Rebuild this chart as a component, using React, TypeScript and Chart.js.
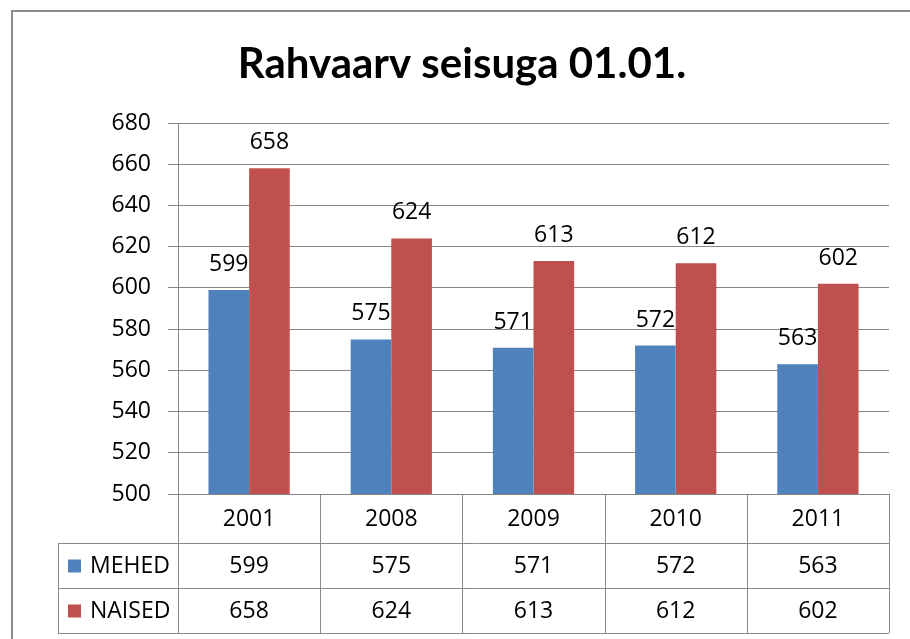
import React, { useEffect, useRef } from "react";
import { Chart, registerables } from "chart.js";

Chart.register(...registerables);

const title = "Rahvaarv seisuga 01.01.";
const categories = ["2001", "2008", "2009", "2010", "2011"];
const seriesNames = ["MEHED", "NAISED"];
const mehed = [599, 575, 571, 572, 563];
const naised = [658, 624, 613, 612, 602];
const colors = ["#4F81BD", "#C0504D"];
const yMin = 500;
const yMax = 680;
const yStep = 20;

const FONT = "'Open Sans', Lato, sans-serif";
const TITLE_FONT = "bold 42px Lato, 'Open Sans', sans-serif";
const TEXT_SIZE = 23;

export default function App() {
  const ref = useRef<HTMLCanvasElement | null>(null);

  useEffect(() => {
    let chart: Chart | null = null;
    let cancelled = false;

    const overlay = {
      id: "excelOverlay",
      afterDraw(c: any) {
        const ctx = c.ctx as CanvasRenderingContext2D;
        const area = c.chartArea;
        const xs = c.scales.x;
        const n = categories.length;
        const catW = (area.right - area.left) / n;
        ctx.save();

        // frame
        ctx.strokeStyle = "#8c8c8c";
        ctx.lineWidth = 2;
        ctx.beginPath();
        ctx.moveTo(12, 639);
        ctx.lineTo(12, 11);
        ctx.lineTo(910, 11);
        ctx.stroke();

        // title
        ctx.fillStyle = "#000";
        ctx.font = TITLE_FONT;
        ctx.textAlign = "center";
        ctx.textBaseline = "alphabetic";
        ctx.fillText(title, 462, 78);

        // data labels
        ctx.font = `${TEXT_SIZE}px ${FONT}`;
        ctx.textAlign = "center";
        ctx.textBaseline = "alphabetic";
        c.data.datasets.forEach((ds: any, di: number) => {
          const meta = c.getDatasetMeta(di);
          meta.data.forEach((bar: any, i: number) => {
            ctx.fillText(String(ds.data[i]), bar.x, bar.y - 19);
          });
        });

        // data table
        const top = area.bottom;
        const rowH = [49, 45, 45];
        const y1 = top + rowH[0];
        const y2 = y1 + rowH[1];
        const y3 = y2 + rowH[2];
        const legendLeft = 58;
        ctx.strokeStyle = "#8a8a8a";
        ctx.lineWidth = 1;
        ctx.beginPath();
        [y1, y2, y3].forEach((y) => {
          ctx.moveTo(legendLeft, Math.round(y) + 0.5);
          ctx.lineTo(area.right, Math.round(y) + 0.5);
        });
        ctx.moveTo(legendLeft + 0.5, y1);
        ctx.lineTo(legendLeft + 0.5, y3);
        for (let i = 0; i <= n; i++) {
          const x = Math.round(area.left + i * catW) + 0.5;
          ctx.moveTo(x, top);
          ctx.lineTo(x, y3);
        }
        ctx.stroke();

        ctx.fillStyle = "#000";
        ctx.textBaseline = "middle";
        ctx.textAlign = "center";
        const rowsMid = [(top + y1) / 2, (y1 + y2) / 2, (y2 + y3) / 2];
        categories.forEach((cat, i) => {
          const cx = xs.getPixelForValue(i);
          ctx.fillText(cat, cx, rowsMid[0] + 1);
          ctx.fillText(String(mehed[i]), cx, rowsMid[1] + 1);
          ctx.fillText(String(naised[i]), cx, rowsMid[2] + 1);
        });
        ctx.textAlign = "left";
        seriesNames.forEach((name, si) => {
          const my = rowsMid[si + 1];
          ctx.fillStyle = colors[si];
          ctx.fillRect(68, my - 6, 13, 13);
          ctx.fillStyle = "#000";
          ctx.fillText(name, 90, my + 1);
        });
        ctx.restore();
      },
    };

    const build = () => {
      if (cancelled || !ref.current) return;
      chart = new Chart(ref.current, {
        type: "bar",
        data: {
          labels: categories,
          datasets: [
            { label: seriesNames[0], data: mehed, backgroundColor: colors[0], borderWidth: 0 },
            { label: seriesNames[1], data: naised, backgroundColor: colors[1], borderWidth: 0 },
          ],
        },
        options: {
          responsive: false,
          animation: false,
          events: [],
          layout: { padding: { left: 0, right: 21, top: 123, bottom: 145 } },
          datasets: {
            bar: { categoryPercentage: 1 / 1.75, barPercentage: 1 },
          },
          plugins: {
            legend: { display: false },
            title: { display: false },
            tooltip: { enabled: false },
          },
          scales: {
            x: { display: false },
            y: {
              min: yMin,
              max: yMax,
              afterFit: (s: any) => {
                s.width = 178;
              },
              ticks: {
                stepSize: yStep,
                color: "#000",
                padding: 17,
                font: { family: FONT, size: TEXT_SIZE },
              },
              grid: { color: "#868686", lineWidth: 1, tickLength: 10, drawTicks: true },
              border: { display: true, color: "#868686", width: 1 },
            },
          },
        },
        plugins: [overlay],
      });
    };

    const fontsReady = (document as any).fonts
      ? Promise.all([
          (document as any).fonts.load(`${TEXT_SIZE}px 'Open Sans'`),
          (document as any).fonts.load("bold 42px Lato"),
        ]).catch(() => null)
      : Promise.resolve(null);
    fontsReady.then(build);

    return () => {
      cancelled = true;
      if (chart) chart.destroy();
    };
  }, []);

  return (
    <div style={{ position: "absolute", left: 0, top: 0, width: 910, height: 639, background: "#fff" }}>
      <canvas ref={ref} width={910} height={639} style={{ display: "block" }} />
    </div>
  );
}
